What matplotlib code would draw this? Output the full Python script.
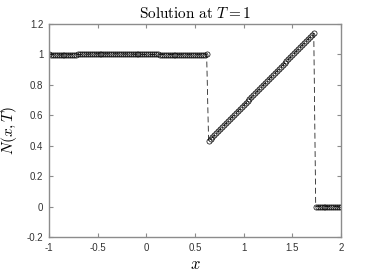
import numpy as np
import matplotlib
matplotlib.use('Agg')
import matplotlib.pyplot as plt

# grid (dx = 0.02)
x_start, x_end, n_points = -1.0, 2.0, 151

# solution values at T = 1
flat = [1.000, 0.999, 0.998, 0.997, 0.997, 0.997, 0.997, 0.997, 0.997, 0.998,
        0.998, 0.998, 0.999, 0.999, 0.999, 1.000, 1.000, 1.001, 1.001, 1.002,
        1.002, 1.003, 1.003, 1.003, 1.004, 1.004, 1.004, 1.004, 1.004, 1.004,
        1.004, 1.004, 1.004, 1.004, 1.004, 1.004, 1.004, 1.003, 1.003, 1.003,
        1.003, 1.002, 1.002, 1.002, 1.002, 1.001, 1.001, 1.001, 1.001, 1.000,
        1.000, 1.000, 1.000, 1.000, 1.000, 1.000, 1.000, 0.999, 0.999, 0.999,
        0.999, 0.999, 0.999, 0.999, 0.999, 0.999, 0.999, 0.998, 0.998, 0.998,
        0.998, 0.998, 0.998, 0.998, 0.998, 0.998, 0.998, 0.998, 0.998, 0.999,
        0.999, 1.000]
ramp = [0.430, 0.443, 0.456, 0.469, 0.483, 0.496, 0.509, 0.522, 0.535, 0.548,
        0.561, 0.575, 0.588, 0.601, 0.614, 0.627, 0.640, 0.653, 0.667, 0.680,
        0.693, 0.706, 0.719, 0.732, 0.745, 0.759, 0.772, 0.785, 0.798, 0.811,
        0.824, 0.837, 0.850, 0.864, 0.877, 0.890, 0.903, 0.916, 0.929, 0.942,
        0.956, 0.969, 0.982, 0.995, 1.008, 1.021, 1.034, 1.048, 1.061, 1.074,
        1.087, 1.100, 1.113, 1.126, 1.140]
zero = [0.000] * 14

x_ticks = [-1, -0.5, 0, 0.5, 1, 1.5, 2]
x_ticklabels = ['-1', '-0.5', '0', '0.5', '1', '1.5', '2']
y_ticks = [-0.2, 0, 0.2, 0.4, 0.6, 0.8, 1, 1.2]
y_ticklabels = ['-0.2', '0', '0.2', '0.4', '0.6', '0.8', '1', '1.2']

x = np.linspace(x_start, x_end, n_points)
N = np.array(flat + ramp + zero)

plt.rcParams['mathtext.fontset'] = 'cm'
plt.rcParams['axes.unicode_minus'] = False

fig = plt.figure(figsize=(3.76, 2.73), dpi=100)
ax = fig.add_axes([0.130, 0.132, 0.777, 0.780])

ax.plot(x, N, color='#222222', linestyle=(0, (7, 4)), linewidth=0.6,
        marker='o', markersize=3.7, markerfacecolor='none',
        markeredgecolor='black', markeredgewidth=0.5)

ax.set_xlim(-1, 2)
ax.set_ylim(-0.2, 1.2)
ax.set_xticks(x_ticks)
ax.set_xticklabels(x_ticklabels)
ax.set_yticks(y_ticks)
ax.set_yticklabels(y_ticklabels)

for s in ax.spines.values():
    s.set_color('#8c8c8c')
    s.set_linewidth(1.0)
ax.tick_params(direction='in', top=True, right=True, length=3, width=0.8,
               color='#8c8c8c', labelsize=7, labelcolor='#333333', pad=4)
for lab in ax.get_xticklabels() + ax.get_yticklabels():
    lab.set_family('Liberation Sans')

ax.set_title(r'$\mathrm{Solution\ at\ }T=1$', fontsize=11, pad=4)
ax.set_xlabel('$x$', fontsize=12, labelpad=2)
ax.set_ylabel(r'$\bar{N}(x,T)$', fontsize=11)
ax.yaxis.set_label_coords(-0.1, 0.5)

fig.savefig('out.png', dpi=100)
